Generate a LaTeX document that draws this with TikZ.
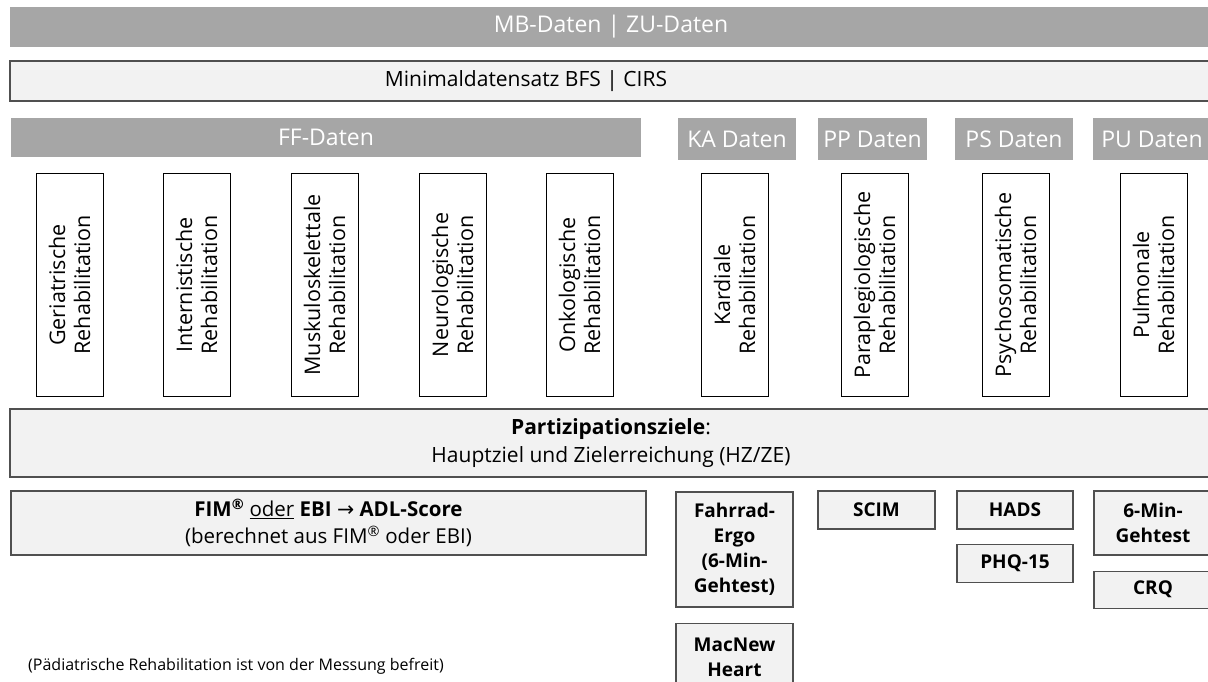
\documentclass[tikz,border=0pt]{standalone}
\usepackage{fontspec}
\setmainfont{Open Sans}
\newfontfamily\arrowfont{DejaVu Sans}
\usetikzlibrary{positioning}
\definecolor{barg}{RGB}{166,166,166}
\definecolor{lightg}{RGB}{242,242,242}
\definecolor{edgeg}{RGB}{80,80,80}
\newcommand{\hdsize}{\fontsize{23}{27}\selectfont}
\newcommand{\txsize}{\fontsize{21}{28}\selectfont}
\newcommand{\bxsize}{\fontsize{19}{25}\selectfont}
\newcommand{\reg}{\textsuperscript{®}}

\begin{document}
\begin{tikzpicture}[x=1pt, y=-1pt,
  darkbar/.style={fill=barg, text=white, inner sep=0pt, font=\hdsize},
  lightbar/.style={fill=lightg, draw=edgeg, line width=1.2pt, inner sep=0pt, align=center, font=\txsize},
  rehabox/.style={draw=black, fill=white, line width=1pt, rotate=90, minimum width=222pt, minimum height=67pt, inner sep=0pt, align=center, font=\fontsize{21.5}{25}\selectfont},
  testbox/.style={fill=lightg, draw=edgeg, line width=1.2pt, inner sep=0pt, align=center, font=\bfseries\bxsize}]
\useasboundingbox (0,0) rectangle (1208,682);
\clip (0,0) rectangle (1208,682);
\fill[white] (0,0) rectangle (1208,682);

% bars across the top
\node(mb)		[darkbar, minimum width=1202pt, minimum height=40pt] at (611,27)
{MB-Daten | ZU-Daten};
\node(mds)		[lightbar, minimum width=1202pt, minimum height=40pt] at (611,81) {};
\node(mdstext)	at (526,81) [inner sep=0pt, font=\txsize]
{Minimaldatensatz BFS | CIRS};

% data headers
\node(ff)		[darkbar, minimum width=630pt, minimum height=39pt] at (326,137.5)
{FF-Daten};
\node(ka)		[darkbar, minimum width=118pt, minimum height=42pt] at (737,139)
{KA Daten};
\node(pp)		[darkbar, minimum width=109pt, minimum height=42pt] at (872.5,139)
{PP Daten};
\node(ps)		[darkbar, minimum width=118pt, minimum height=42pt] at (1014,139)
{PS Daten};
\node(pu)		[darkbar, minimum width=118pt, minimum height=42pt] at (1152,139)
{PU Daten};

% rehabilitation types
\node(ger)		[rehabox] at (69.5,285)		{Geriatrische\\Rehabilitation};
\node(int)		[rehabox] at (196.5,285)	{Internistische\\Rehabilitation};
\node(mus)		[rehabox] at (324.5,285)	{Muskuloskelettale\\Rehabilitation};
\node(neu)		[rehabox] at (452.5,285)	{Neurologische\\Rehabilitation};
\node(onk)		[rehabox] at (579.5,285)	{Onkologische\\Rehabilitation};
\node(kar)		[rehabox] at (734.5,285)	{Kardiale\\Rehabilitation};
\node(par)		[rehabox] at (874.5,285)	{Paraplegiologische\\Rehabilitation};
\node(psy)		[rehabox] at (1015.5,285)	{Psychosomatische\\Rehabilitation};
\node(pul)		[rehabox] at (1153.5,285)	{Pulmonale\\Rehabilitation};

\node(part)		[lightbar, minimum width=1202pt, minimum height=68pt] at (611,443)
{\textbf{Partizipationsziele}:\\Hauptziel und Zielerreichung (HZ/ZE)};

% instruments
\node(fim)		[lightbar, minimum width=635pt, minimum height=64pt, font=\fontsize{20.5}{27}\selectfont] at (328.5,523)
{\textbf{FIM\reg} \underline{oder} \textbf{EBI} {\arrowfont →} \textbf{ADL-Score}\\(berechnet aus FIM\reg{} oder EBI)};
\node(fahr)		[testbox, minimum width=117pt, minimum height=115pt] at (734.5,549.5)
{Fahrrad-\\Ergo\\(6-Min-\\Gehtest)};
\node(mac)		[testbox, minimum width=117pt, minimum height=68pt, below = 15pt of fahr]
{MacNew\\Heart};
\node(scim)		[testbox, minimum width=117pt, minimum height=38pt] at (876.5,510)
{SCIM};
\node(hads)		[testbox, minimum width=116pt, minimum height=38pt] at (1015,510)
{HADS};
\node(phq)		[testbox, minimum width=116pt, minimum height=38pt, below = 14pt of hads]
{PHQ-15};
\node(gehen)	[testbox, minimum width=118pt, minimum height=64pt] at (1153,523)
{6-Min-\\Gehtest};
\node(crq)		[testbox, minimum width=118pt, minimum height=37pt, below = 15pt of gehen]
{CRQ};

\node(foot)		[anchor=west, inner sep=0pt, font=\fontsize{16}{19}\selectfont] at (28,666)
{(Pädiatrische Rehabilitation ist von der Messung befreit)};
\end{tikzpicture}
\end{document}
